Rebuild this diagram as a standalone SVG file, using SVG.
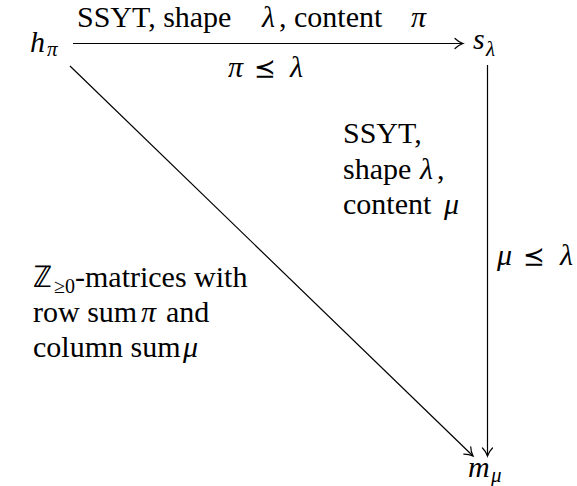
<svg xmlns="http://www.w3.org/2000/svg" width="577" height="486" viewBox="0 0 577 486">
<style>
text{font-size:30px;fill:#000}
.edge{stroke:#000;stroke-width:1.2;fill:none}
</style>
<defs>
<marker id="to" markerUnits="userSpaceOnUse" markerWidth="14" markerHeight="14" refX="0" refY="0" viewBox="-10 -7 12 14" orient="auto" overflow="visible">
<path d="M -8,-5 C -5.5,-2.5 -2.5,-0.8 0,0 C -2.5,0.8 -5.5,2.5 -8,5" fill="none" stroke="#000" stroke-width="1.2" stroke-linecap="round"/>
</marker>
</defs>
<g id="connectors">
<line class="edge" x1="73" y1="43.5" x2="463" y2="43.5" marker-end="url(#to)"/>
<line class="edge" x1="487.5" y1="65" x2="487.5" y2="456" marker-end="url(#to)"/>
<line class="edge" x1="70" y1="66" x2="473" y2="456" marker-end="url(#to)"/>
</g>
<g id="edge-labels">
<text x="77" y="27" style="font-family:'Liberation Serif',serif">SSYT, shape</text>
<text x="262" y="27" style="font-family:'Liberation Serif',serif;font-style:italic">λ</text>
<text x="279" y="27" style="font-family:'Liberation Serif',serif">, content</text>
<text x="411" y="27" style="font-family:'Liberation Serif',serif;font-style:italic">π</text>
<text x="228" y="77" style="font-family:'Liberation Serif',serif;font-style:italic">π</text>
<text x="254" y="77" style="font-family:'DejaVu Sans',sans-serif;font-size:26px">⪯</text>
<text x="290" y="77" style="font-family:'Liberation Serif',serif;font-style:italic">λ</text>
<text x="343" y="143" style="font-family:'Liberation Serif',serif">SSYT,</text>
<text x="343" y="179" style="font-family:'Liberation Serif',serif">shape</text>
<text x="420" y="179" style="font-family:'Liberation Serif',serif;font-style:italic">λ</text>
<text x="437" y="179" style="font-family:'Liberation Serif',serif">,</text>
<text x="343" y="214" style="font-family:'Liberation Serif',serif">content</text>
<text x="444" y="214" style="font-family:'Liberation Serif',serif;font-style:italic">μ</text>
<text x="497" y="265" style="font-family:'Liberation Serif',serif;font-style:italic">μ</text>
<text x="523" y="265" style="font-family:'DejaVu Sans',sans-serif;font-size:26px">⪯</text>
<text x="560" y="265" style="font-family:'Liberation Serif',serif;font-style:italic">λ</text>
<text x="33" y="287" style="font-family:'Liberation Serif',serif">ℤ</text>
<text x="54" y="293" style="font-family:'Liberation Serif',serif;font-size:20px">≥0</text>
<text x="75" y="287" style="font-family:'Liberation Serif',serif">-matrices with</text>
<text x="33" y="322" style="font-family:'Liberation Serif',serif">row sum</text>
<text x="141" y="322" style="font-family:'Liberation Serif',serif;font-style:italic">π</text>
<text x="166" y="322" style="font-family:'Liberation Serif',serif">and</text>
<text x="33" y="357" style="font-family:'Liberation Serif',serif">column sum</text>
<text x="183" y="357" style="font-family:'Liberation Serif',serif;font-style:italic">μ</text>
</g>
<g id="node-h">
<text x="30" y="52" style="font-family:'Liberation Serif',serif;font-style:italic">h</text>
<text x="47" y="56" style="font-family:'Liberation Serif',serif;font-style:italic;font-size:21px">π</text>
</g>
<g id="node-s">
<text x="473" y="49" style="font-family:'Liberation Serif',serif;font-style:italic">s</text>
<text x="486" y="56" style="font-family:'Liberation Serif',serif;font-style:italic;font-size:21px">λ</text>
</g>
<g id="node-m">
<text x="468" y="477" style="font-family:'Liberation Serif',serif;font-style:italic">m</text>
<text x="491" y="482" style="font-family:'Liberation Serif',serif;font-style:italic;font-size:21px">μ</text>
</g>
</svg>
